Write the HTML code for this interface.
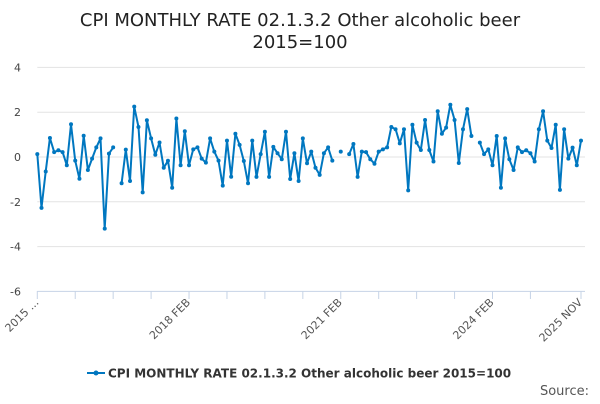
<!DOCTYPE html>
<html><head><meta charset="utf-8"><style>
body{margin:0;background:#fff;font-family:"DejaVu Sans","Liberation Sans",sans-serif;}
svg text{font-family:"DejaVu Sans","Liberation Sans",sans-serif;}
</style></head><body>
<svg id="chart" width="600" height="400">
<text x="300" y="26" text-anchor="middle" font-size="18" fill="#222">CPI MONTHLY RATE 02.1.3.2 Other alcoholic beer</text>
<text x="300" y="48" text-anchor="middle" font-size="18" fill="#222">2015=100</text>
<g id="grid"></g><g id="xaxis"></g><g id="series"></g>
<g>
<line x1="87" y1="373" x2="105" y2="373" stroke="#0077c0" stroke-width="2"/>
<circle cx="96" cy="373" r="2.5" fill="#0077c0"/>
<text x="108" y="377.5" font-size="12" font-weight="bold" fill="#333">CPI MONTHLY RATE 02.1.3.2 Other alcoholic beer 2015=100</text>
</g>
<text x="589" y="395" text-anchor="end" font-size="13" fill="#555">Source:</text>
</svg>
<script>
const yTicks=[4,2,0,-2,-4,-6];
const xTickLabels=["2015 ...","","","","2018 FEB","","","","2021 FEB","","","","2024 FEB","","2025 NOV"];
const xTickIndex=[0,9,18,27,36,45,54,63,72,81,90,99,108,117,129];
const values=[0.13,-2.27,-0.65,0.85,0.22,0.3,0.22,-0.37,1.46,-0.16,-0.97,0.95,-0.58,-0.07,0.43,0.83,-3.2,0.15,0.43,null,
-1.17,0.33,-1.07,2.25,1.34,-1.58,1.64,0.83,0.1,0.65,-0.48,-0.17,-1.37,1.72,-0.37,1.15,-0.37,0.34,0.43,-0.07,
-0.25,0.83,0.24,-0.16,-1.28,0.73,-0.88,1.04,0.54,-0.18,-1.17,0.73,-0.89,0.13,1.13,-0.89,0.45,0.17,-0.1,1.13,
-0.98,0.17,-1.07,0.83,-0.28,0.24,-0.48,-0.8,0.17,0.43,-0.16,null,0.24,null,0.13,0.58,-0.89,0.24,0.22,-0.1,
-0.3,0.24,0.34,0.43,1.34,1.24,0.61,1.24,-1.49,1.44,0.64,0.31,1.65,0.31,-0.2,2.04,1.04,1.31,2.33,1.65,
-0.27,1.24,2.14,0.94,null,0.64,0.13,0.34,-0.37,0.94,-1.37,0.83,-0.1,-0.58,0.43,0.22,0.3,0.17,-0.2,1.24,
2.04,0.73,0.4,1.44,-1.47,1.24,-0.07,0.42,-0.37,0.73];
const NS="http://www.w3.org/2000/svg";
const x0=37.3,x1=581,y0=157,ppu=22.4;
const xs=i=>x0+i*(x1-x0)/(values.length-1);
const ys=v=>y0-v*ppu;
function mk(t,a,p){const e=document.createElementNS(NS,t);for(const k in a)e.setAttribute(k,a[k]);p.appendChild(e);return e;}
const grid=document.getElementById('grid');
yTicks.forEach(v=>{
  const l=mk('line',{x1:x0,x2:x1+4,y1:ys(v),y2:ys(v),stroke:v===-6?'#c6d3e6':'#e3e3e3','stroke-width':1},grid);
  
  
  const t=mk('text',{x:21,y:ys(v)+4,'text-anchor':'end','font-size':11,fill:'#444'},grid);
  t.textContent=v;
  
  
});
const xa=document.getElementById('xaxis');
xTickIndex.forEach((idx,k)=>{
  const x=xs(idx);
  const l=mk('line',{x1:x,x2:x,y1:291,y2:299,stroke:'#c6d3e6'},xa);
  
  
  if(xTickLabels[k]){
    const t=mk('text',{x:x+2,y:303,'text-anchor':'end','font-size':11,fill:'#555',transform:`rotate(-45 ${x+2} 303)`},xa);
    t.textContent=xTickLabels[k];
    
    
  }
});
const s=document.getElementById('series');
let d='',pen=false;
values.forEach((v,i)=>{if(v===null){pen=false;return;}d+=(pen?'L':'M')+xs(i).toFixed(1)+' '+ys(v).toFixed(1);pen=true;});
const p=mk('path',{d:d,fill:'none',stroke:'#0077c0','stroke-width':2,'stroke-linejoin':'round'},s);


values.forEach((v,i)=>{if(v===null)return;
  const c=mk('circle',{cx:xs(i),cy:ys(v),r:2,fill:'#0077c0'},s);
  
  
});
</script>
</body></html>
